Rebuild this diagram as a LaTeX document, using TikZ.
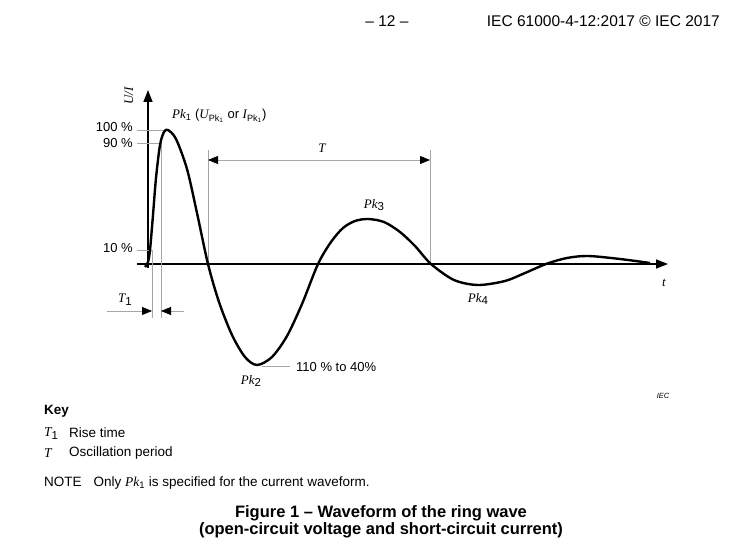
\documentclass[tikz,border=0pt]{standalone}
\usepackage{fontspec}
\setmainfont{Liberation Sans}
\newfontfamily\timesfont{Liberation Serif}
\usetikzlibrary{arrows.meta}

\newcommand{\sym}[1]{{\timesfont\itshape #1}}
\newcommand{\lowsub}[1]{\raisebox{-0.4ex}{\fontsize{11.5}{13}\selectfont #1}}

\tikzset{
    axis/.style={line width=1.4pt, -{Triangle[length=12pt,width=9pt]}},
    guide/.style={gray!70, line width=0.8pt},
    dimarrow/.style={gray!70, line width=0.8pt},
    wave/.style={line width=2.4pt, line join=round},
    lbl/.style={inner sep=0pt, font=\fontsize{13}{15}\selectfont},
    keytxt/.style={inner sep=0pt, anchor=west, font=\fontsize{13.5}{16}\selectfont}
}

\begin{document}
\begin{tikzpicture}[x=1pt, y=-1pt]
    \useasboundingbox (0,0) rectangle (734,556);

    % page header
    \node[inner sep=0pt, font=\fontsize{15.5}{18}\selectfont] (pagenum) at (387,21) {– 12 –};
    \node[inner sep=0pt, anchor=east, font=\fontsize{15.5}{18}\selectfont] (docref) at (720,21)
        {IEC 61000-4-12:2017 © IEC 2017};

    % axes
    \coordinate (ybot) at (148,268);
    \coordinate (ytop) at (148,90);
    \coordinate (xleft) at (137,264);
    \coordinate (xright) at (668,264);
    \draw[axis] (ybot) -- (ytop);
    \draw[axis] (xleft) -- (xright);
    \node[lbl, rotate=90] (ylabel) at (129,96) {\sym{U/I}};
    \node[lbl] (xlabel) at (664,283) {\sym{t}};

    % levels
    \coordinate (pk1) at (168,130);
    \coordinate (r90) at (161,143);
    \coordinate (r10) at (152,250);
    \coordinate (l100) at (137,130);
    \coordinate (l90) at (137,143);
    \coordinate (l10) at (137,250);
    \draw[guide] (l100) -- (pk1);
    \draw[guide] (l90) -- (r90);
    \draw[guide] (l10) -- (r10);
    \node[lbl, anchor=east] (p100) at (133,127) {100 \%};
    \node[lbl, anchor=east] (p90) at (133,143) {90 \%};
    \node[lbl, anchor=east] (p10) at (133,248) {10 \%};

    % rise time
    \coordinate (t1a) at (152,318);
    \coordinate (t1b) at (161,318);
    \coordinate (t1la) at (107,311);
    \coordinate (t1lb) at (152,311);
    \coordinate (t1ra) at (184,311);
    \coordinate (t1rb) at (161,311);
    \draw[guide] (r10) -- (t1a);
    \draw[guide] (r90) -- (t1b);
    \draw[dimarrow, -{Triangle[length=10pt,width=8pt,color=black]}] (t1la) -- (t1lb);
    \draw[dimarrow, -{Triangle[length=10pt,width=8pt,color=black]}] (t1ra) -- (t1rb);
    \node[lbl] (t1label) at (125,300) {\sym{T}\lowsub{1}};

    % period
    \coordinate (za) at (208,264);
    \coordinate (zb) at (430,264);
    \coordinate (zat) at (208,150);
    \coordinate (zbt) at (430,150);
    \coordinate (ta) at (208,160);
    \coordinate (tb) at (430,160);
    \draw[guide] (zat) -- (za);
    \draw[guide] (zbt) -- (zb);
    \draw[dimarrow, {Triangle[length=10pt,width=8pt,color=black]}-{Triangle[length=10pt,width=8pt,color=black]}]
        (ta) -- (tb);
    \node[lbl] (tlabel) at (322,148) {\sym{T}};

    % ring wave
    \draw[wave] plot[smooth, tension=0.5] coordinates {
        (145,267) (148,262) (150,250) (153,215) (156,178) (160,145) (164,132) (168,130)
        (176,139) (187,169) (197,213) (208,264)
        (219,302) (232,335) (245,357) (257,365)
        (272,357) (287,336) (302,304) (318,264)
        (331,242) (343,228) (355,221) (368,219)
        (384,222) (400,232) (415,246) (431,264)
        (454,280) (478,285) (505,281) (525,273) (546,264)
        (567,258) (588,256) (620,259) (650,263)};

    % peaks
    \coordinate (pk2) at (262,366);
    \coordinate (pk2r) at (290,366);
    \draw[guide] (pk2) -- (pk2r);
    \node[lbl, anchor=west] (pk1label) at (172,116)
        {\sym{Pk}\textsubscript{1} (\sym{U}\textsubscript{Pk\textsubscript{1}} or \sym{I}\textsubscript{Pk\textsubscript{1}})};
    \node[lbl] (pk2label) at (251,381) {\sym{Pk}\lowsub{2}};
    \node[lbl] (pk3label) at (374,205) {\sym{Pk}\lowsub{3}};
    \node[lbl] (pk4label) at (478,299) {\sym{Pk}\lowsub{4}};
    \node[lbl, anchor=west] (range) at (296,367) {110 \% to 40\%};
    \node[inner sep=0pt, font=\fontsize{7.5}{9}\selectfont\itshape] (iec) at (663,396) {IEC};

    % key
    \node[keytxt, font=\fontsize{13.5}{16}\selectfont\bfseries] (key) at (44,411) {Key};
    \node[keytxt] (keyt1) at (44,434) {\sym{T}\lowsub{1}};
    \node[keytxt] (keyt1txt) at (69,433) {Rise time};
    \node[keytxt] (keyt) at (44,453) {\sym{T}};
    \node[keytxt] (keyttxt) at (69,453) {Oscillation period};
    \node[keytxt] (note) at (44,483)
        {NOTE\hspace{12pt}Only \sym{Pk}\textsubscript{1} is specified for the current waveform.};

    % caption
    \node[inner sep=0pt, align=center, font=\fontsize{16.5}{17.5}\selectfont\bfseries] (caption) at (381,522)
        {Figure 1 – Waveform of the ring wave\\(open-circuit voltage and short-circuit current)};
\end{tikzpicture}
\end{document}
